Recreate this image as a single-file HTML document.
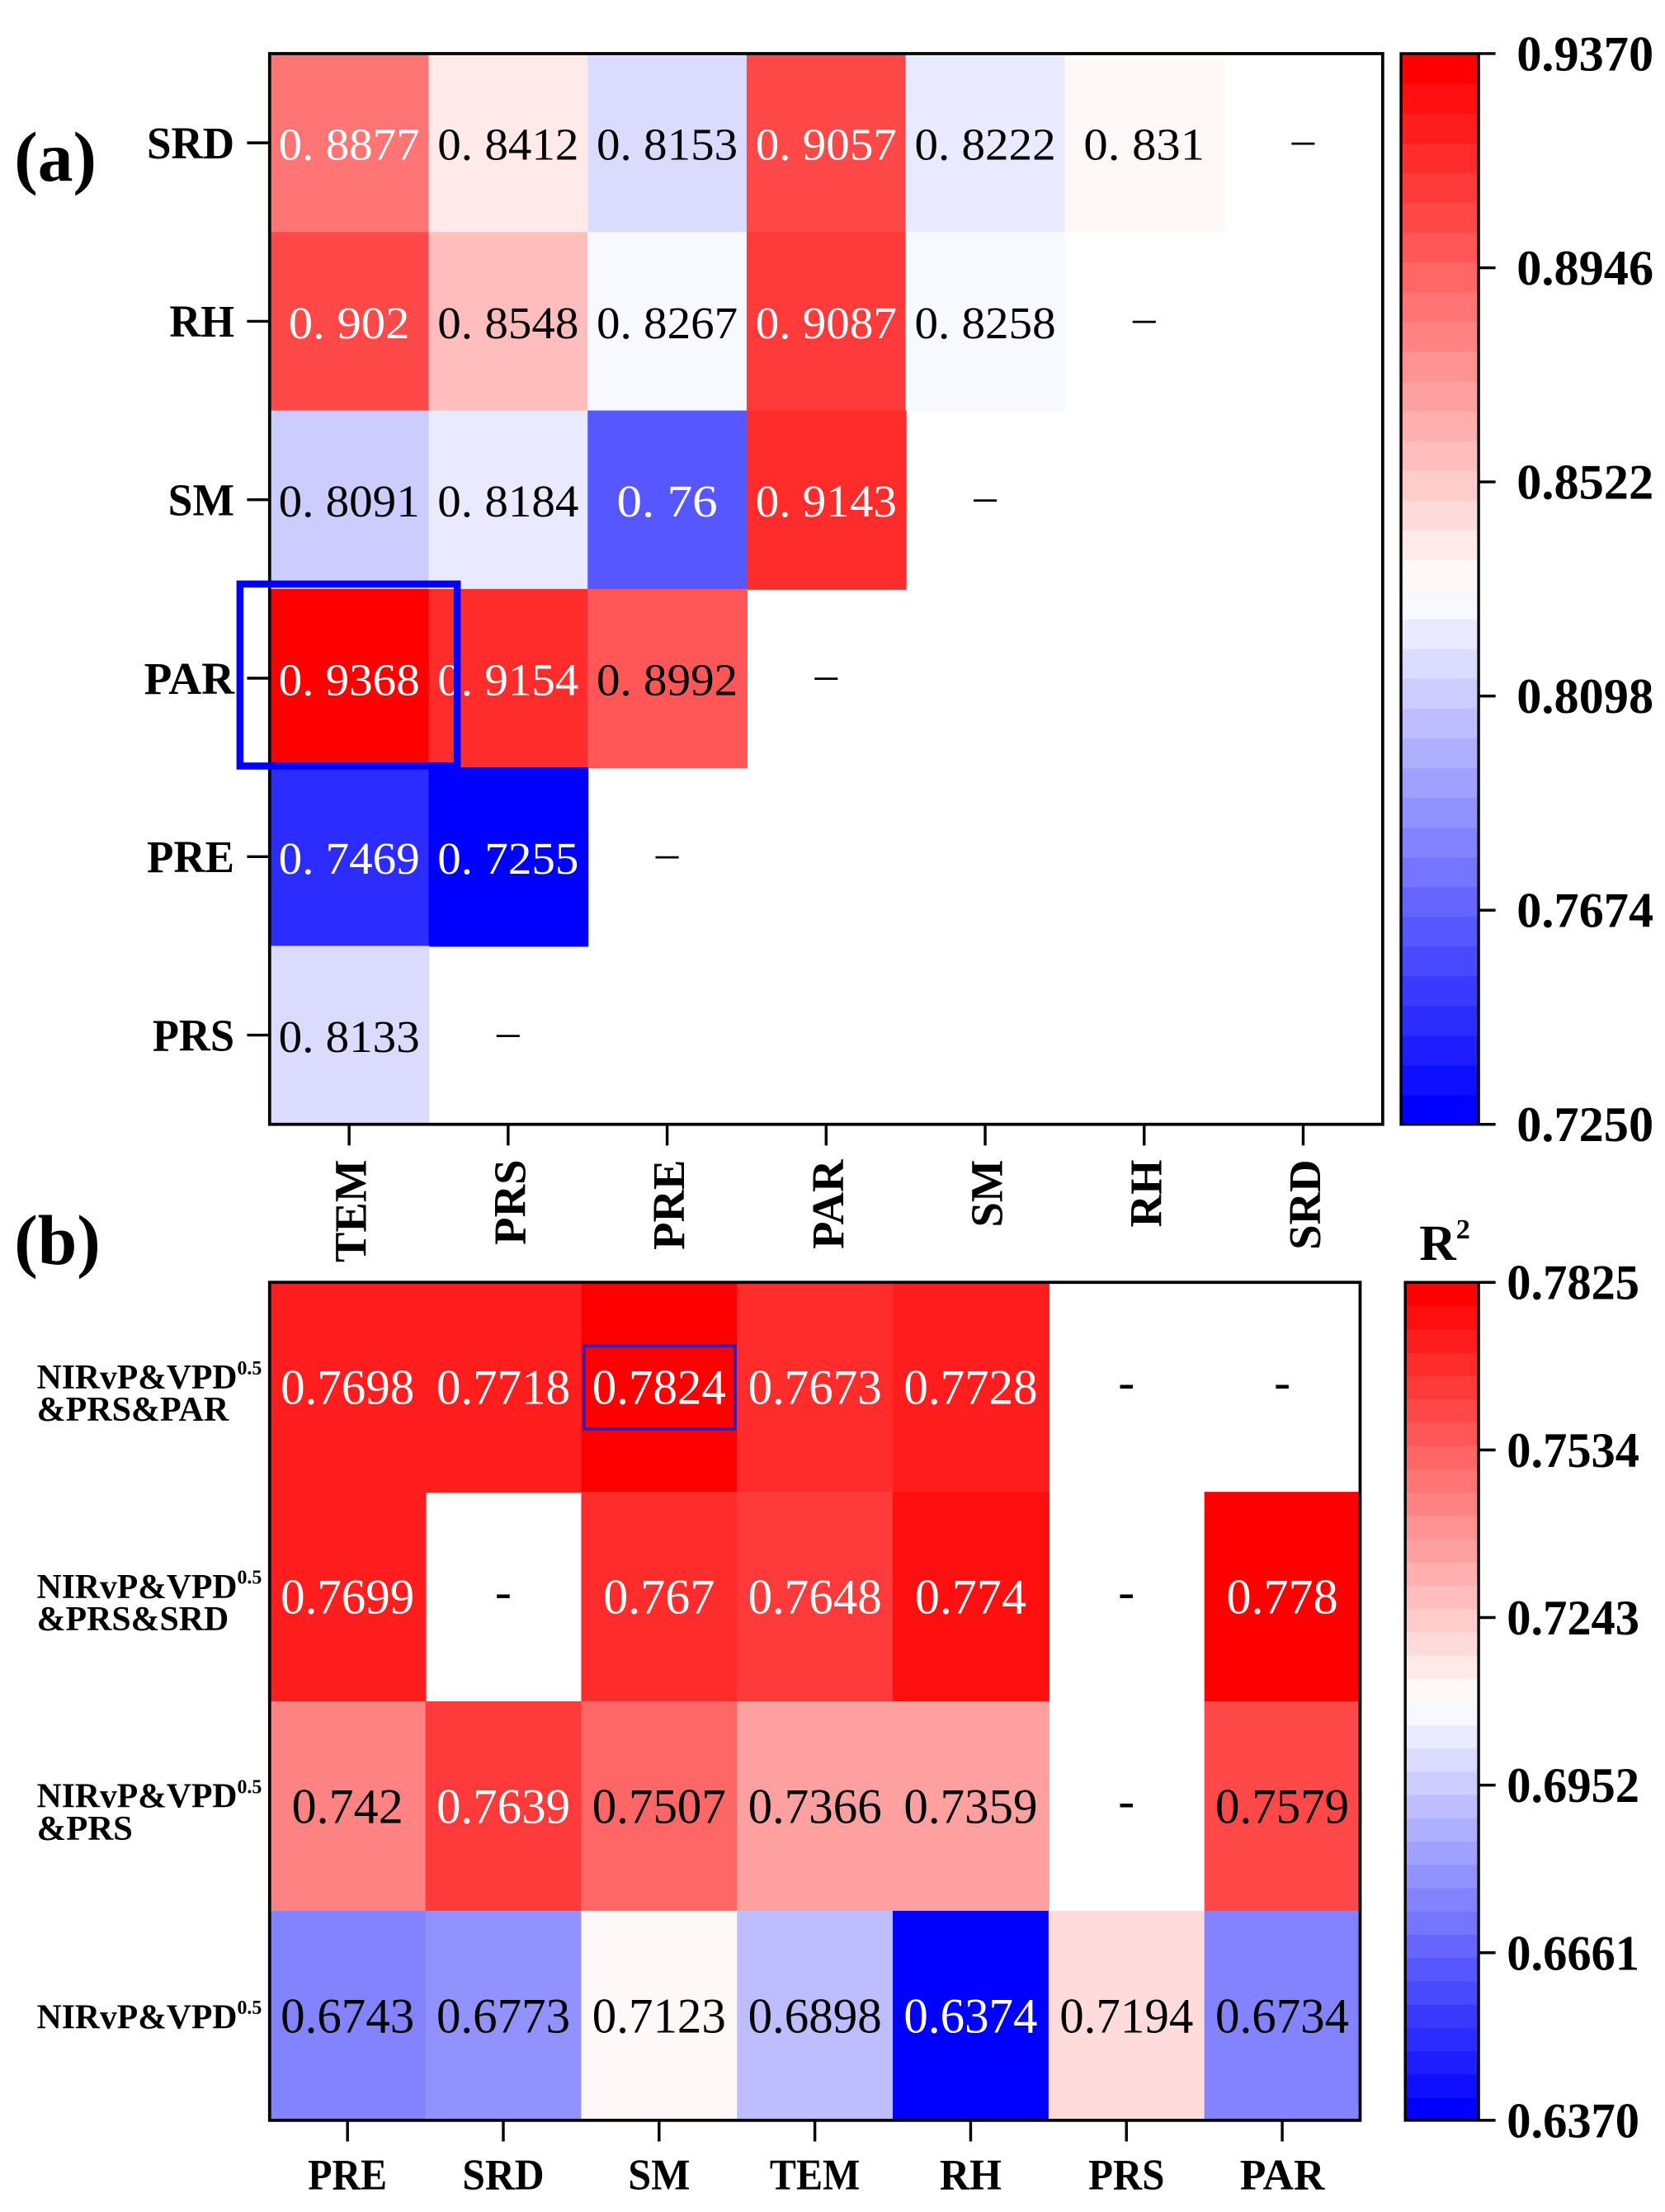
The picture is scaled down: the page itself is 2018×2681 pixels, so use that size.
<!DOCTYPE html>
<html><head><meta charset="utf-8">
<style>html,body{margin:0;padding:0;background:#fff}svg{display:block}</style>
</head><body>
<svg id="s" width="2018" height="2681" viewBox="0 0 1180 1568" xmlns="http://www.w3.org/2000/svg" font-family="Liberation Serif, serif"></svg>
<script>
const S=document.getElementById('s');let h='';
function col(v,mn,mx){let t=(v-mn)/(mx-mn)+0.004;const N=36;t=Math.min(N-1,Math.floor(t*N))/(N-1);
 let r,g,b;if(t<0.5){r=g=Math.round(510*t);b=255;}else{r=255;g=b=Math.round((2-2*t)*255);}return `rgb(${r},${g},${b})`;}
function panel(o){
 const {x0,y0,x1,y1,rows,cols,vals,white,mn,mx,fs,dash,mono}=o;
 const cw=(x1-x0)/cols.length,rh=(y1-y0)/rows.length;
 vals.forEach((row,i)=>row.forEach((v,j)=>{
  const cx=x0+cw*(j+0.5),cy=y0+rh*(i+0.5);
  if(v===null){h+=`<text x="${cx}" y="${cy+8}" font-size="${fs}" text-anchor="middle">${dash}</text>`;return;}
  h+=`<rect x="${x0+cw*j}" y="${y0+rh*i}" width="${cw+0.6}" height="${rh+0.6}" fill="${col(v,mn,mx)}"/>`;
 }));
 vals.forEach((row,i)=>row.forEach((v,j)=>{
  if(v===null)return;const cx=x0+cw*(j+0.5),cy=y0+rh*(i+0.5);
  let s=String(v);if(mono)s=s.replace('.','. ');
  const w=mono?(s.length*14.3):(s.length*15.8);
  const c=white[i][j]?'#fff':'#000';
  h+=`<text x="${cx}" y="${cy+12}" font-size="${fs}" fill="${c}" text-anchor="middle" textLength="${w}" lengthAdjust="spacingAndGlyphs">${s}</text>`;
 }));
 h+=`<rect x="${x0}" y="${y0}" width="${x1-x0}" height="${y1-y0}" fill="none" stroke="#000" stroke-width="2.2"/>`;
}
function cbar(x0,y0,x1,y1,mn,mx,ticks,lx,lw){
 const N=36,bh=(y1-y0)/N;
 for(let k=0;k<N;k++){const v=mn+(mx-mn)*(k+0.5)/N;h+=`<rect x="${x0}" y="${y1-bh*(k+1)}" width="${x1-x0}" height="${bh+0.5}" fill="${col(v,mn,mx)}"/>`;}
 h+=`<rect x="${x0}" y="${y0}" width="${x1-x0}" height="${y1-y0}" fill="none" stroke="#000" stroke-width="2"/>`;
 ticks.forEach((t,i)=>{const y=y1-(y1-y0)*i/(ticks.length-1);
  h+=`<line x1="${x1}" y1="${y}" x2="${x1+12}" y2="${y}" stroke="#000" stroke-width="2"/>`;
  h+=`<text x="${lx}" y="${y+12}" font-size="35" font-weight="bold" textLength="${lw}" lengthAdjust="spacingAndGlyphs">${t}</text>`;});
}
// panel a
const A={x0:191,y0:38,x1:980,y1:797,rows:['SRD','RH','SM','PAR','PRE','PRS'],cols:['TEM','PRS','PRE','PAR','SM','RH','SRD'],mn:0.725,mx:0.937,fs:32,dash:'–',mono:true,
vals:[[0.8877,0.8412,0.8153,0.9057,0.8222,0.831,null],[0.902,0.8548,0.8267,0.9087,0.8258,null],[0.8091,0.8184,0.76,0.9143,null],[0.9368,0.9154,0.8992,null],[0.7469,0.7255,null],[0.8133,null]],
white:[[1,0,0,1,0,0],[1,0,0,1,0],[0,0,1,1],[1,1,0],[1,1],[0]]};
panel(A);
const ca=(980-191)/7,ra=(797-38)/6;
const aw={SRD:62,RH:46,SM:47,PAR:64,PRE:62,PRS:58};
A.rows.forEach((r,i)=>{const y=38+ra*(i+0.5);h+=`<line x1="175" y1="${y}" x2="191" y2="${y}" stroke="#000" stroke-width="2"/><text x="166" y="${y+11}" font-size="32" font-weight="bold" text-anchor="end" textLength="${aw[r]}" lengthAdjust="spacingAndGlyphs">${r}</text>`;});
A.cols.forEach((c,j)=>{const x=191+ca*(j+0.5);h+=`<line x1="${x}" y1="797" x2="${x}" y2="812" stroke="#000" stroke-width="2"/><text transform="translate(${x+12},822) rotate(-90)" font-size="32" font-weight="bold" text-anchor="end">${c}</text>`;});
h+=`<rect x="170" y="414" width="154" height="129" fill="none" stroke="#0000ff" stroke-width="5"/>`;
cbar(993,38,1048,797,0.725,0.937,['0.7250','0.7674','0.8098','0.8522','0.8946','0.9370'],1075,97);
// panel b
const B={x0:191,y0:909,x1:964,y1:1503,cols:['PRE','SRD','SM','TEM','RH','PRS','PAR'],mn:0.637,mx:0.7825,fs:35,dash:'-',mono:false,
vals:[[0.7698,0.7718,0.7824,0.7673,0.7728,null,null],[0.7699,null,0.767,0.7648,0.774,null,0.778],[0.742,0.7639,0.7507,0.7366,0.7359,null,0.7579],[0.6743,0.6773,0.7123,0.6898,0.6374,0.7194,0.6734]],
white:[[1,1,1,1,1,0,0],[1,0,1,1,1,0,1],[0,1,0,0,0,0,0],[0,0,0,0,1,0,0]],rows:[1,2,3,4]};
panel(B);
const cb=(964-191)/7,rb=(1503-909)/4;
const bw={PRE:56,SRD:58,SM:44,TEM:64,RH:44,PRS:54,PAR:60};
B.cols.forEach((c,j)=>{const x=191+cb*(j+0.5);h+=`<line x1="${x}" y1="1503" x2="${x}" y2="1518" stroke="#000" stroke-width="2"/><text x="${x}" y="1552" font-size="31" font-weight="bold" text-anchor="middle" textLength="${bw[c]}" lengthAdjust="spacingAndGlyphs">${c}</text>`;});
const ylab=[['NIRvP&amp;VPD','&amp;PRS&amp;PAR',136],['NIRvP&amp;VPD','&amp;PRS&amp;SRD',136],['NIRvP&amp;VPD','&amp;PRS',68],['NIRvP&amp;VPD',null,0]];
ylab.forEach((l,i)=>{const cy=909+rb*(i+0.5);const y1=l[1]?cy+1:cy+9;
 h+=`<text x="26" y="${y1}" font-size="25" font-weight="bold"><tspan textLength="142" lengthAdjust="spacingAndGlyphs">${l[0]}</tspan><tspan font-size="14" dy="-10">0.5</tspan></text>`;
 if(l[1])h+=`<text x="26" y="${cy+24}" font-size="25" font-weight="bold" textLength="${l[2]}" lengthAdjust="spacingAndGlyphs">${l[1]}</text>`;});
h+=`<rect x="414" y="954" width="107" height="59" fill="none" stroke="#2222cc" stroke-width="2"/>`;
cbar(996,909,1048,1503,0.637,0.7825,['0.6370','0.6661','0.6952','0.7243','0.7534','0.7825'],1068,94);
h+=`<text x="1006" y="893" font-size="36" font-weight="bold">R<tspan font-size="20" dy="-15">2</tspan></text>`;
h+=`<text x="10" y="128" font-size="50" font-weight="bold">(a)</text>`;
h+=`<text x="10" y="896" font-size="50" font-weight="bold">(b)</text>`;
S.innerHTML=h;
</script>
</body></html>
